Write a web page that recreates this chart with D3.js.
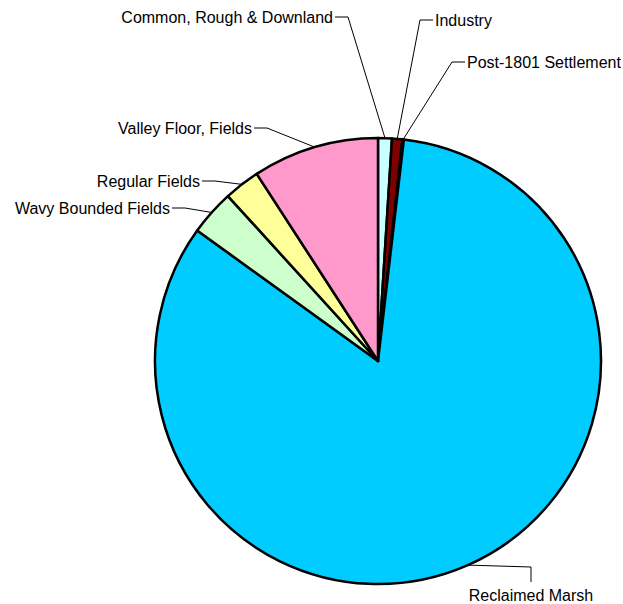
<!DOCTYPE html>
<html>
<head>
<meta charset="utf-8">
<script src="https://cdn.jsdelivr.net/npm/d3@7"></script>
<style>
  body { margin: 0; background: #fff; }
  text { font-family: "Liberation Sans", Arial, sans-serif; font-size: 16px; fill: #000; }
</style>
</head>
<body>
<div id="chart"></div>
<script>
// data (percent of total)
var categories = ["Common, Rough & Downland", "Industry", "Post-1801 Settlement",
  "Reclaimed Marsh", "Wavy Bounded Fields", "Regular Fields", "Valley Floor, Fields"];
var values = [1.0, 0.75, 0.1, 83.1, 3.3, 2.6, 9.15];
var colors = ["#CCFFFF", "#800000", "#3366FF", "#00CCFF", "#CCFFCC", "#FFFF99", "#FF99CC"];

// where each label sits (elbow point of the leader, text side)
var labelLayout = {
  "Common, Rough & Downland": { x: 348, y: 17, side: "left" },
  "Industry": { x: 420, y: 20, side: "right" },
  "Post-1801 Settlement": { x: 452, y: 62, side: "right" },
  "Reclaimed Marsh": { x: 531, y: 567, side: "below" },
  "Wavy Bounded Fields": { x: 185, y: 208, side: "left" },
  "Regular Fields": { x: 215, y: 181, side: "left" },
  "Valley Floor, Fields": { x: 267, y: 128, side: "left" }
};

var width = 623, height = 604;
var cx = 378, cy = 361, radius = 223;

var svg = d3.select("#chart").append("svg")
  .attr("width", width)
  .attr("height", height);

var g = svg.append("g").attr("transform", "translate(" + cx + "," + cy + ")");

var pie = d3.pie().sort(null).value(function (d) { return d.value; });
var arc = d3.arc().innerRadius(0).outerRadius(radius);
var edge = d3.arc().innerRadius(radius).outerRadius(radius);

var data = categories.map(function (c, i) {
  return { name: c, value: values[i], color: colors[i] };
});
var arcs = pie(data);

g.selectAll("path.slice")
  .data(arcs)
  .enter()
  .append("path")
  .attr("class", "slice")
  .attr("d", arc)
  .attr("fill", function (d) { return d.data.color; })
  .attr("stroke", "#000")
  .attr("stroke-width", 2.5)
  .attr("stroke-linejoin", "round");

// leader lines + labels
arcs.forEach(function (d) {
  var p = edge.centroid(d);
  var sx = p[0] + cx, sy = p[1] + cy;
  var L = labelLayout[d.data.name];
  var pts, tx, ty, anchor;
  if (L.side === "left") {
    pts = [[sx, sy], [L.x, L.y], [L.x - 13, L.y]];
    tx = L.x - 15; ty = L.y; anchor = "end";
  } else if (L.side === "right") {
    pts = [[sx, sy], [L.x, L.y], [L.x + 13, L.y]];
    tx = L.x + 15; ty = L.y; anchor = "start";
  } else {
    pts = [[sx, sy], [L.x, L.y], [L.x, L.y + 15]];
    tx = L.x; ty = L.y + 28; anchor = "middle";
  }
  svg.append("path")
    .attr("d", d3.line()(pts))
    .attr("fill", "none")
    .attr("stroke", "#000")
    .attr("stroke-width", 1);
  svg.append("text")
    .attr("x", tx)
    .attr("y", ty)
    .attr("dy", "0.35em")
    .attr("text-anchor", anchor)
    .text(d.data.name);
});
</script>
</body>
</html>
